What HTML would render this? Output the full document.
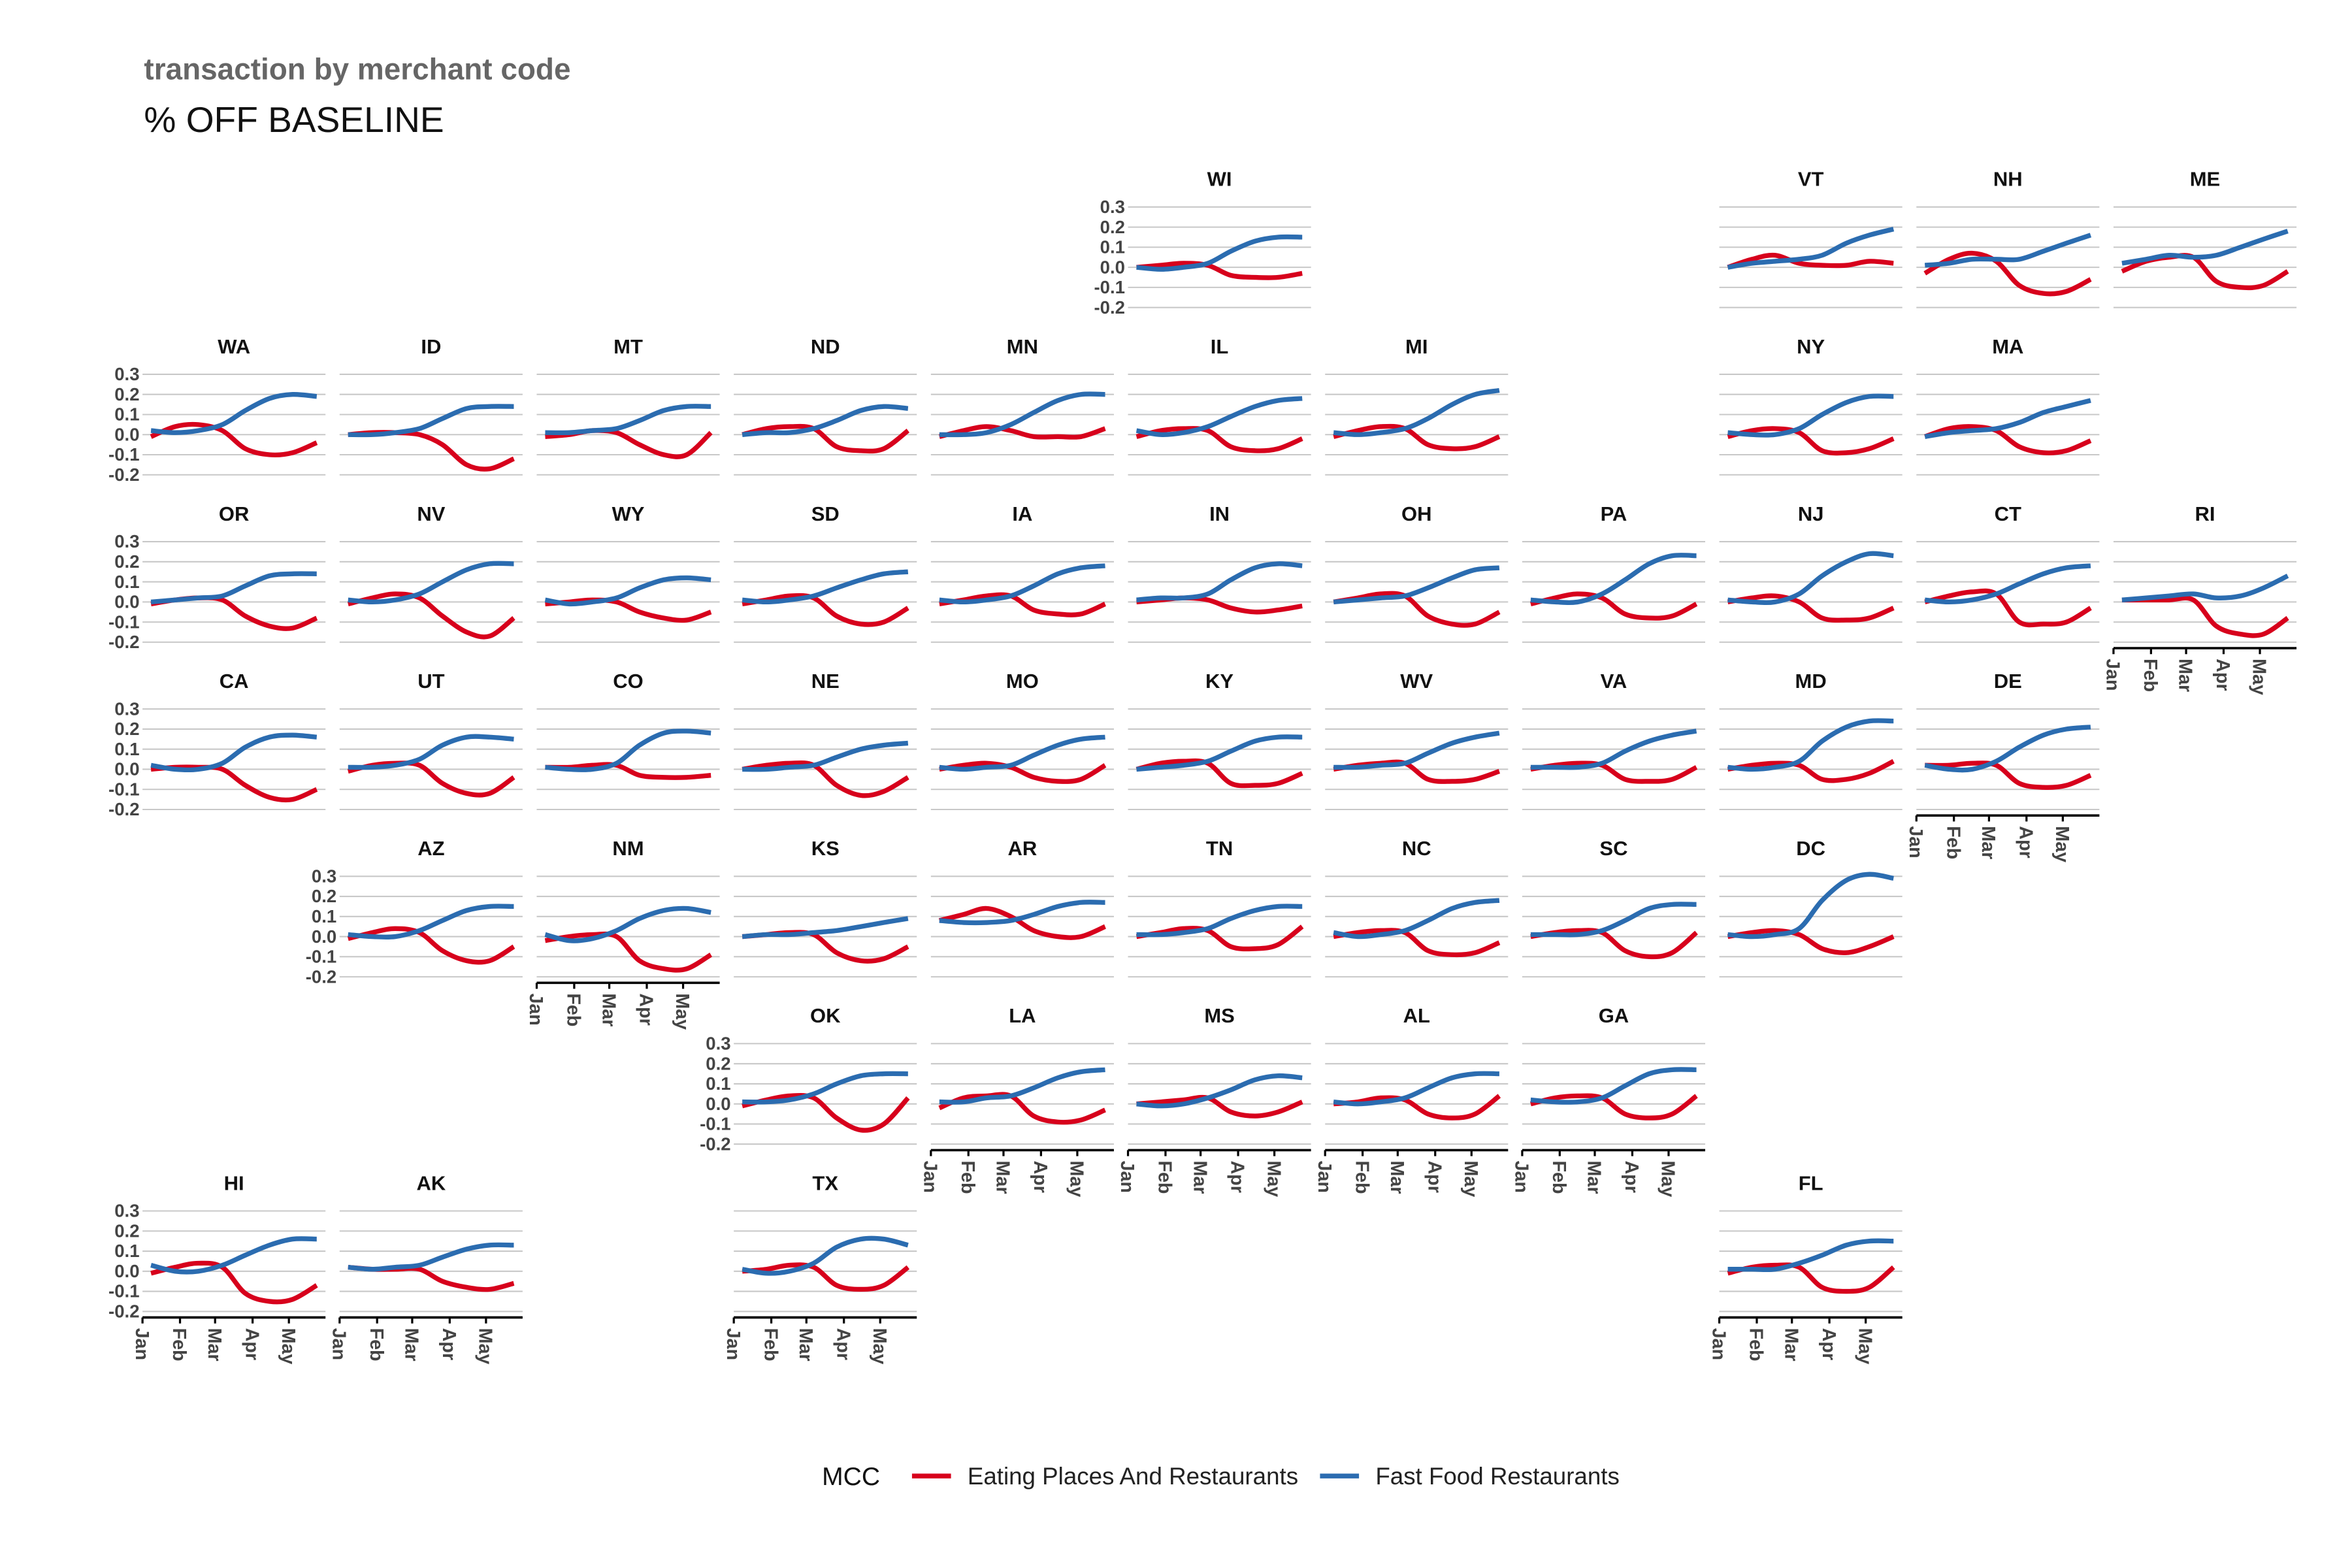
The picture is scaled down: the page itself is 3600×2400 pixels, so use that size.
<!DOCTYPE html>
<html><head><meta charset="utf-8"><style>
html,body{margin:0;padding:0;background:#fff;}
svg{display:block;font-family:"Liberation Sans",Arial,sans-serif;}
</style></head><body>
<svg id="chart" width="3600" height="2400" viewBox="0 0 1568 1045.33" xmlns="http://www.w3.org/2000/svg">
<text x="96" y="53" font-size="20" font-weight="bold" fill="#666">transaction by merchant code</text>
<text x="96" y="88" font-size="24" fill="#111">% OFF BASELINE</text>
<g id="panels"></g>
<g>
<text x="548" y="990" font-size="17" fill="#111">MCC</text>
<line x1="608" y1="984" x2="634" y2="984" stroke="#d7001c" stroke-width="3.2"/>
<text x="645" y="989.5" font-size="16" fill="#222">Eating Places And Restaurants</text>
<line x1="880" y1="984" x2="906" y2="984" stroke="#2b6cb0" stroke-width="3.2"/>
<text x="917" y="989.5" font-size="16" fill="#222">Fast Food Restaurants</text>
</g>
</svg>
<script>
const days = [7, 27, 46, 66, 85, 105, 124, 144];
const monthLabels = ["Jan","Feb","Mar","Apr","May"];
const monthDays = [0, 31, 60, 91, 121];
const yTicks = [0.3, 0.2, 0.1, 0.0, -0.1, -0.2];
const yTickLabels = ["0.3","0.2","0.1","0.0","-0.1","-0.2"];
const states = ["WI","VT","NH","ME","WA","ID","MT","ND","MN","IL","MI","NY","MA","OR","NV","WY","SD","IA","IN","OH","PA","NJ","CT","RI","CA","UT","CO","NE","MO","KY","WV","VA","MD","DE","AZ","NM","KS","AR","TN","NC","SC","DC","OK","LA","MS","AL","GA","HI","AK","TX","FL"];
const gridRow = [0,0,0,0,1,1,1,1,1,1,1,1,1,2,2,2,2,2,2,2,2,2,2,2,3,3,3,3,3,3,3,3,3,3,4,4,4,4,4,4,4,4,5,5,5,5,5,6,6,6,6];
const gridCol = [5,8,9,10,0,1,2,3,4,5,6,8,9,0,1,2,3,4,5,6,7,8,9,10,0,1,2,3,4,5,6,7,8,9,1,2,3,4,5,6,7,8,3,4,5,6,7,0,1,3,8];
const showX = ["RI","DE","NM","LA","MS","AL","GA","HI","AK","TX","FL"];
const eating = {
WI:[0,0.01,0.02,0.01,-0.04,-0.05,-0.05,-0.03],
VT:[0,0.04,0.06,0.02,0.01,0.01,0.03,0.02],
NH:[-0.03,0.04,0.07,0.03,-0.09,-0.13,-0.12,-0.06],
ME:[-0.02,0.03,0.05,0.05,-0.07,-0.1,-0.09,-0.02],
WA:[-0.01,0.04,0.05,0.02,-0.07,-0.1,-0.09,-0.04],
ID:[0,0.01,0.01,0.0,-0.05,-0.15,-0.17,-0.12],
MT:[-0.01,0,0.02,0.01,-0.05,-0.1,-0.1,0.01],
ND:[0,0.03,0.04,0.03,-0.06,-0.08,-0.07,0.02],
MN:[-0.01,0.02,0.04,0.02,-0.01,-0.01,-0.01,0.03],
IL:[-0.01,0.02,0.03,0.02,-0.06,-0.08,-0.07,-0.02],
MI:[-0.01,0.02,0.04,0.03,-0.05,-0.07,-0.06,-0.01],
NY:[-0.01,0.02,0.03,0.01,-0.08,-0.09,-0.07,-0.02],
MA:[-0.01,0.03,0.04,0.02,-0.06,-0.09,-0.08,-0.03],
OR:[-0.01,0.01,0.02,0.01,-0.07,-0.12,-0.13,-0.08],
NV:[-0.01,0.02,0.04,0.02,-0.07,-0.15,-0.17,-0.08],
WY:[-0.01,0,0.01,0,-0.05,-0.08,-0.09,-0.05],
SD:[-0.01,0.01,0.03,0.02,-0.07,-0.11,-0.1,-0.03],
IA:[-0.01,0.01,0.03,0.03,-0.04,-0.06,-0.06,-0.01],
IN:[0,0.01,0.02,0.01,-0.03,-0.05,-0.04,-0.02],
OH:[0,0.02,0.04,0.03,-0.07,-0.11,-0.11,-0.05],
PA:[-0.01,0.02,0.04,0.02,-0.06,-0.08,-0.07,-0.01],
NJ:[0,0.02,0.03,0,-0.08,-0.09,-0.08,-0.03],
CT:[0,0.03,0.05,0.04,-0.1,-0.11,-0.1,-0.03],
RI:[0.01,0.01,0.01,0.01,-0.12,-0.16,-0.16,-0.08],
CA:[0,0.01,0.01,0,-0.08,-0.14,-0.15,-0.1],
UT:[-0.01,0.02,0.03,0.02,-0.07,-0.12,-0.12,-0.04],
CO:[0.01,0.01,0.02,0.02,-0.03,-0.04,-0.04,-0.03],
NE:[0,0.02,0.03,0.02,-0.08,-0.13,-0.11,-0.04],
MO:[0,0.02,0.03,0.01,-0.04,-0.06,-0.05,0.02],
KY:[0,0.03,0.04,0.03,-0.07,-0.08,-0.07,-0.02],
WV:[0,0.02,0.03,0.03,-0.05,-0.06,-0.05,-0.01],
VA:[0,0.02,0.03,0.02,-0.05,-0.06,-0.05,0.01],
MD:[0,0.02,0.03,0.02,-0.05,-0.05,-0.02,0.04],
DE:[0.02,0.02,0.03,0.02,-0.07,-0.09,-0.08,-0.03],
AZ:[-0.01,0.02,0.04,0.02,-0.07,-0.12,-0.12,-0.05],
NM:[-0.02,0,0.01,0,-0.12,-0.16,-0.16,-0.09],
KS:[0,0.01,0.02,0.01,-0.08,-0.12,-0.11,-0.05],
AR:[0.08,0.11,0.14,0.1,0.03,0,0.0,0.05],
TN:[0,0.02,0.04,0.03,-0.05,-0.06,-0.04,0.05],
NC:[0,0.02,0.03,0.02,-0.07,-0.09,-0.08,-0.03],
SC:[0,0.02,0.03,0.02,-0.07,-0.1,-0.08,0.02],
DC:[0,0.02,0.03,0.01,-0.06,-0.08,-0.05,0.0],
OK:[-0.01,0.02,0.04,0.03,-0.07,-0.13,-0.1,0.03],
LA:[-0.02,0.03,0.04,0.04,-0.06,-0.09,-0.08,-0.03],
MS:[0,0.01,0.02,0.03,-0.04,-0.06,-0.04,0.01],
AL:[0,0.01,0.03,0.02,-0.05,-0.07,-0.05,0.04],
GA:[0,0.03,0.04,0.03,-0.05,-0.07,-0.05,0.04],
HI:[-0.01,0.02,0.04,0.02,-0.11,-0.15,-0.14,-0.07],
AK:[0.02,0.01,0.01,0.01,-0.05,-0.08,-0.09,-0.06],
TX:[0,0.01,0.03,0.02,-0.07,-0.09,-0.07,0.02],
FL:[-0.01,0.02,0.03,0.02,-0.08,-0.1,-0.08,0.02]
};
const fastFood = {
WI:[0,-0.01,0,0.02,0.08,0.13,0.15,0.15],
VT:[0,0.02,0.03,0.04,0.06,0.12,0.16,0.19],
NH:[0.01,0.02,0.04,0.04,0.04,0.08,0.12,0.16],
ME:[0.02,0.04,0.06,0.05,0.06,0.1,0.14,0.18],
WA:[0.02,0.01,0.02,0.05,0.12,0.18,0.2,0.19],
ID:[0,0,0.01,0.03,0.08,0.13,0.14,0.14],
MT:[0.01,0.01,0.02,0.03,0.07,0.12,0.14,0.14],
ND:[0,0.01,0.01,0.03,0.07,0.12,0.14,0.13],
MN:[0,0,0.01,0.05,0.11,0.17,0.2,0.2],
IL:[0.02,0,0.01,0.04,0.09,0.14,0.17,0.18],
MI:[0.01,0,0.01,0.03,0.08,0.15,0.2,0.22],
NY:[0.01,0,0,0.03,0.1,0.16,0.19,0.19],
MA:[-0.01,0.01,0.02,0.03,0.06,0.11,0.14,0.17],
OR:[0,0.01,0.02,0.03,0.08,0.13,0.14,0.14],
NV:[0.01,0,0.01,0.04,0.1,0.16,0.19,0.19],
WY:[0.01,-0.01,0,0.02,0.07,0.11,0.12,0.11],
SD:[0.01,0,0.01,0.03,0.07,0.11,0.14,0.15],
IA:[0.01,0,0.01,0.03,0.08,0.14,0.17,0.18],
IN:[0.01,0.02,0.02,0.04,0.11,0.17,0.19,0.18],
OH:[0,0.01,0.02,0.03,0.07,0.12,0.16,0.17],
PA:[0.01,0,0,0.04,0.11,0.19,0.23,0.23],
NJ:[0.01,0,0,0.04,0.13,0.2,0.24,0.23],
CT:[0.01,0,0.01,0.04,0.09,0.14,0.17,0.18],
RI:[0.01,0.02,0.03,0.04,0.02,0.03,0.07,0.13],
CA:[0.02,0,0,0.03,0.11,0.16,0.17,0.16],
UT:[0.01,0.01,0.02,0.05,0.12,0.16,0.16,0.15],
CO:[0.01,0,0,0.03,0.12,0.18,0.19,0.18],
NE:[0,0,0.01,0.02,0.06,0.1,0.12,0.13],
MO:[0.01,0,0.01,0.02,0.07,0.12,0.15,0.16],
KY:[0,0.01,0.02,0.04,0.09,0.14,0.16,0.16],
WV:[0.01,0.01,0.02,0.03,0.08,0.13,0.16,0.18],
VA:[0.01,0.01,0.01,0.03,0.09,0.14,0.17,0.19],
MD:[0.01,0,0.01,0.04,0.14,0.21,0.24,0.24],
DE:[0.02,0,0,0.04,0.11,0.17,0.2,0.21],
AZ:[0.01,0,0,0.03,0.08,0.13,0.15,0.15],
NM:[0.01,-0.02,-0.01,0.03,0.09,0.13,0.14,0.12],
KS:[0,0.01,0.01,0.02,0.03,0.05,0.07,0.09],
AR:[0.08,0.07,0.07,0.08,0.11,0.15,0.17,0.17],
TN:[0.01,0.01,0.02,0.04,0.09,0.13,0.15,0.15],
NC:[0.02,0,0.01,0.03,0.08,0.14,0.17,0.18],
SC:[0.01,0.01,0.01,0.03,0.08,0.14,0.16,0.16],
DC:[0.01,0,0.01,0.04,0.18,0.28,0.31,0.29],
OK:[0.01,0.01,0.02,0.05,0.1,0.14,0.15,0.15],
LA:[0.01,0.01,0.03,0.04,0.08,0.13,0.16,0.17],
MS:[0,-0.01,0,0.03,0.07,0.12,0.14,0.13],
AL:[0.01,0,0.01,0.03,0.08,0.13,0.15,0.15],
GA:[0.02,0.01,0.01,0.03,0.09,0.15,0.17,0.17],
HI:[0.03,0,0,0.03,0.08,0.13,0.16,0.16],
AK:[0.02,0.01,0.02,0.03,0.07,0.11,0.13,0.13],
TX:[0.01,-0.01,0,0.04,0.12,0.16,0.16,0.13],
FL:[0.01,0.01,0.01,0.04,0.08,0.13,0.15,0.15]
};

const NS = "http://www.w3.org/2000/svg";
const root = document.getElementById("panels");
const COL_W = 131.4, ROW_H = 111.55, X0 = 95, PW = 122;
function mk(tag, attrs, parent){ const e=document.createElementNS(NS,tag); for(const k in attrs) e.setAttribute(k,attrs[k]); parent.appendChild(e); return e; }
function smoothPath(pts){
  let d = "M"+pts[0][0].toFixed(2)+","+pts[0][1].toFixed(2);
  for(let i=0;i<pts.length-1;i++){
    const p0=pts[Math.max(0,i-1)], p1=pts[i], p2=pts[i+1], p3=pts[Math.min(pts.length-1,i+2)];
    const c1=[p1[0]+(p2[0]-p0[0])/6, p1[1]+(p2[1]-p0[1])/6];
    const c2=[p2[0]-(p3[0]-p1[0])/6, p2[1]-(p3[1]-p1[1])/6];
    d += " C"+c1[0].toFixed(2)+","+c1[1].toFixed(2)+" "+c2[0].toFixed(2)+","+c2[1].toFixed(2)+" "+p2[0].toFixed(2)+","+p2[1].toFixed(2);
  }
  return d;
}
const firstInRow = {};
states.forEach((s,i)=>{ const r=gridRow[i]; if(firstInRow[r]===undefined || gridCol[i]<gridCol[firstInRow[r]]) firstInRow[r]=i; });

states.forEach((s,i)=>{
  const r=gridRow[i], c=gridCol[i];
  const px = X0 + c*COL_W;
  const yTop = 138 + r*ROW_H;
  const xs = d => px + d*0.8066;
  const ys = v => yTop + (0.3 - v)*134;
  const g = mk("g",{},root);
  
  
  const t = mk("text",{x:px+PW/2, y:124+r*ROW_H, "text-anchor":"middle","font-size":"13.5","font-weight":"bold",fill:"#111"},g);
  t.textContent = s;
  
  
  yTicks.forEach((v,k)=>{
    const ln = mk("line",{x1:px,x2:px+PW,y1:ys(v),y2:ys(v),stroke:"#c8c8c8","stroke-width":"0.9"},g);
    
    
    if(firstInRow[r]===i){
      const tl = mk("text",{x:px-2,y:ys(v)+4,"text-anchor":"end","font-size":"12","font-weight":"bold",fill:"#444"},g);
      tl.textContent = yTickLabels[k];
      
      
    }
  });
  const ep = mk("path",{d:smoothPath(days.map((d,k)=>[xs(d),ys(eating[s][k])])),fill:"none",stroke:"#d7001c","stroke-width":"3.2","stroke-linecap":"butt"},g);
  
  
  const fp = mk("path",{d:smoothPath(days.map((d,k)=>[xs(d),ys(fastFood[s][k])])),fill:"none",stroke:"#2b6cb0","stroke-width":"3.2","stroke-linecap":"butt"},g);
  
  
  if(showX.includes(s)){
    const ay = ys(-0.2)+4;
    const ax = mk("line",{x1:px,x2:px+PW,y1:ay,y2:ay,stroke:"#000","stroke-width":"1.6"},g);
    
    
    monthDays.forEach((md,k)=>{
      const tx = xs(md);
      const tk = mk("line",{x1:tx,x2:tx,y1:ay,y2:ay+4,stroke:"#000","stroke-width":"1.4"},g);
      
      
      const lb = mk("text",{x:tx-4.5,y:ay+7,"font-size":"12.5","font-weight":"bold",fill:"#444",transform:"rotate(90 "+(tx-4.5)+" "+(ay+7)+")"},g);
      lb.textContent = monthLabels[k];
      
      
    });
  }
});
</script>
</body></html>
